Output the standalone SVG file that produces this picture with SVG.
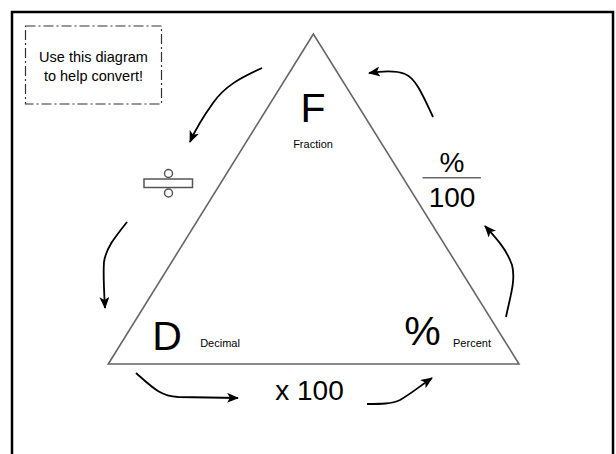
<svg xmlns="http://www.w3.org/2000/svg" width="616" height="454" viewBox="0 0 616 454">
  <style>
    .t { font-family: "Liberation Sans", Arial, sans-serif; fill: #000; }
    .big { font-size: 41px; }
    .mid { font-size: 28px; }
    .sm { font-size: 11px; }
    .note { font-size: 14.5px; }
    .arrow { fill: none; stroke: #000; stroke-width: 1.8; marker-end: url(#ah); }
    .gray { fill: none; stroke: #666; stroke-width: 1.6; }
  </style>
  <defs>
    <marker id="ah" viewBox="0 0 12 10" refX="11" refY="5" markerWidth="12" markerHeight="10" markerUnits="userSpaceOnUse" orient="auto">
      <path d="M0,0 L12,5 L0,10 L3,5 Z" fill="#000"/>
    </marker>
  </defs>
  <rect width="616" height="454" fill="#fff"/>
  <rect id="frame" x="12" y="12" width="601" height="470" fill="none" stroke="#000" stroke-width="2.5"/>

  <g id="note">
    <rect x="25.5" y="26" width="136" height="78" fill="none" stroke="#333" stroke-width="1.2" stroke-dasharray="10 3 2 3"/>
    <text class="t note" x="93.5" y="62" text-anchor="middle">Use this diagram</text>
    <text class="t note" x="93.5" y="81" text-anchor="middle">to help convert!</text>
  </g>

  <g id="triangle">
    <polygon class="gray" points="313.4,34 108.3,364 519,364"/>
  </g>

  <g id="fraction">
    <text class="t big" x="313" y="122" text-anchor="middle">F</text>
    <text class="t sm" x="313" y="148" text-anchor="middle">Fraction</text>
  </g>

  <g id="decimal">
    <text class="t big" x="167" y="350" text-anchor="middle">D</text>
    <text class="t sm" x="220" y="347" text-anchor="middle">Decimal</text>
  </g>

  <g id="percent">
    <text class="t big" x="422.5" y="345" text-anchor="middle">%</text>
    <text class="t sm" x="472" y="347" text-anchor="middle">Percent</text>
  </g>

  <g id="divide">
    <rect x="144" y="179" width="48.5" height="8.5" fill="#fff" stroke="#555" stroke-width="1.5"/>
    <circle cx="168.5" cy="173.5" r="4" fill="#fff" stroke="#555" stroke-width="1.5"/>
    <circle cx="168.5" cy="193" r="4" fill="#fff" stroke="#555" stroke-width="1.5"/>
  </g>

  <g id="pct-over-100">
    <text class="t mid" x="452" y="172" text-anchor="middle">%</text>
    <line x1="422.5" y1="177.7" x2="481" y2="177.7" stroke="#666" stroke-width="1.6"/>
    <text class="t mid" x="452" y="207" text-anchor="middle">100</text>
  </g>

  <g id="times-100">
    <text class="t mid" x="309.5" y="400" text-anchor="middle">x 100</text>
  </g>

  <g id="connectors">
    <path class="arrow" d="M262,68 C240,78 225,86 213,103 C203,117 196,128 190,142"/>
    <path class="arrow" d="M127,222 C115,237 106,248 104,262 C103,275 104,290 105,308"/>
    <path class="arrow" d="M136,373 C152,387 160,396 178,397 L238,398"/>
    <path class="arrow" d="M367,404 C380,404 392,404 400,400 C412,393 420,386 432,378"/>
    <path class="arrow" d="M506,317 C510,297 516,280 512,265 C506,248 495,237 485,226"/>
    <path class="arrow" d="M433,117 C424,98 416,78 405,74 C395,70 383,71 369,73"/>
  </g>
</svg>
